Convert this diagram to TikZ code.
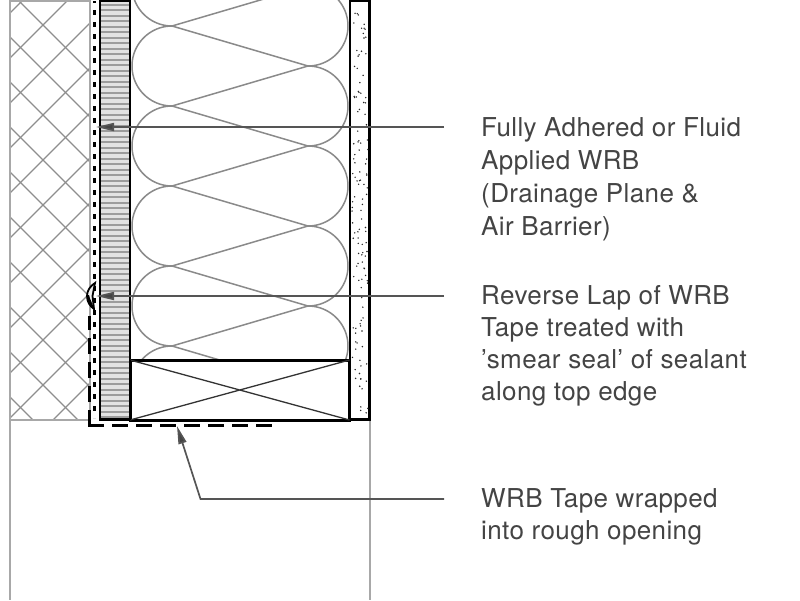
\documentclass[tikz,border=0pt]{standalone}
\usepackage{fontspec}
\setmainfont[LetterSpace=1.5]{TeX Gyre Heros}
\usetikzlibrary{arrows.meta}
\definecolor{hatchgray}{HTML}{8E8E8E}
\definecolor{loopgray}{HTML}{8A8A8A}
\definecolor{bordergray}{HTML}{A8A8A8}
\definecolor{leadergray}{HTML}{555555}
\definecolor{textgray}{HTML}{444444}
\definecolor{stripegray}{HTML}{9C9C9C}
\definecolor{stripebg}{HTML}{E2E2E2}
\tikzset{
  hatchline/.style={draw=hatchgray,line width=1.2pt},
  loopline/.style={draw=loopgray,line width=1.5pt},
  outline/.style={draw=bordergray,line width=1.1pt},
  wall/.style={draw=black,line width=2.1pt},
  leader/.style={draw=leadergray,line width=1.7pt},
  arrowed/.style={leader,-{Triangle[length=18pt,width=8pt,fill=textgray]}},
  tape/.style={draw=black,line width=2.8pt},
  label/.style={anchor=north west,inner sep=0pt,align=left,text=textgray,
    font=\fontsize{26}{33}\selectfont},
  labeltight/.style={label,font=\fontsize{26}{32}\selectfont},
}
\begin{document}
\begin{tikzpicture}[x=1pt,y=-1pt]
\useasboundingbox (0,0) rectangle (800,600);
% hatched block
\begin{scope}
  \clip (10,1) rectangle (90,419);
  \foreach \k in {0,...,10} {
    \draw[hatchline] (0,{-18+45*\k}) -- ++(500,500);
  }
  \foreach \k in {0,...,12} {
    \draw[hatchline] (0,{23+45*\k}) -- ++(500,-500);
  }
\end{scope}
\draw[outline,line width=2pt] (90,420) -- (90,1) -- (10,1) -- (10,420);
\draw[outline] (10,420) -- (10,600) (370,420) -- (370,600);
\draw[outline,line width=1.6pt] (10,420) -- (89,420);
% insulation
\begin{scope}
  \clip (131,0) rectangle (349,360);
  \foreach \c in {-14,66,146,226,306,386} {
    \draw[loopline] plot[domain=90:270,samples=50] ({172+40*cos(\x)},{\c+40*sin(\x)});
  }
  \foreach \c in {26,106,186,266,346} {
    \draw[loopline] plot[domain=-90:90,samples=50] ({308+40*cos(\x)},{\c+40*sin(\x)});
    \draw[loopline] (172,\c) -- (308,\c-40);
    \draw[loopline] (172,\c) -- (308,\c+40);
  }
\end{scope}
% sheathing
\fill[stripebg] (100,1) rectangle (130,419);
\foreach \k in {0,...,75} {
  \draw[draw=stripegray,line width=2pt] (100,{4.5+5.5*\k}) -- (130,{4.5+5.5*\k});
}
\draw[wall] (100,1) rectangle (130,419.5);
% dotted WRB
\draw[draw=black,line width=3pt,dash pattern=on 5pt off 7pt] (94.5,10) -- (94.5,418);
\draw[draw=black,line width=3pt] (94.5,1) -- (94.5,2.5);
% cladding
\draw[wall] (350,1) rectangle (369.5,419.5);
\pgfmathsetseed{4217}
\foreach \i in {1,...,125} {
  \pgfmathsetmacro{\dx}{352+16*rnd}
  \pgfmathsetmacro{\dy}{4+412*rnd}
  \fill[black!85] (\dx,\dy) circle (0.8);
}
% rough buck
\draw[draw=black,line width=3pt,fill=white] (130,360) rectangle (349.5,420);
\draw[draw=black!80,line width=1.3pt] (130,360) -- (349.5,420) (130,420) -- (349.5,360);
\draw[wall] (130,419.5) -- (130,360);
% tape
\draw[tape] (89.5,410) -- (89.5,425.5) -- (104,425.5);
\draw[tape,dash pattern=on 16pt off 8pt] (89.5,402) -- (89.5,316);
\draw[tape,dash pattern=on 16pt off 8pt] (112,425.5) -- (272,425.5);
% smear of sealant
\draw[draw=black,line width=1.8pt,fill=stripebg!50]
  (95,283) .. controls (90,286) and (87,291) .. (87,296)
  .. controls (87,302) and (90,306) .. (94,309) -- (92.5,296) -- cycle;
\fill[black] (86.5,295) .. controls (86.5,302) and (90,307) .. (94.5,310)
  .. controls (93,304) and (90,300) .. (89,295) -- cycle;
% labels
\node[label] (t1) at (481,117) {Fully Adhered or Fluid\\Applied WRB\\(Drainage Plane \&\\Air Barrier)};
\node[labeltight] (t2) at (481,285) {Reverse Lap of WRB\\Tape treated with\\\symbol{39}smear seal\symbol{39} of sealant\\along top edge};
\node[labeltight] (t3) at (481,488.5) {WRB Tape wrapped\\into rough opening};
% leaders
\coordinate (s1) at (444,127);
\coordinate (e1) at (96,127);
\coordinate (s2) at (444,296);
\coordinate (e2) at (96,296);
\coordinate (s3) at (444,499);
\coordinate (k3) at (200.5,499);
\coordinate (e3) at (177,426);
\draw[arrowed] (s1) -- (e1);
\draw[arrowed] (s2) -- (e2);
\draw[arrowed] (s3) -- (k3) -- (e3);
\end{tikzpicture}
\end{document}
